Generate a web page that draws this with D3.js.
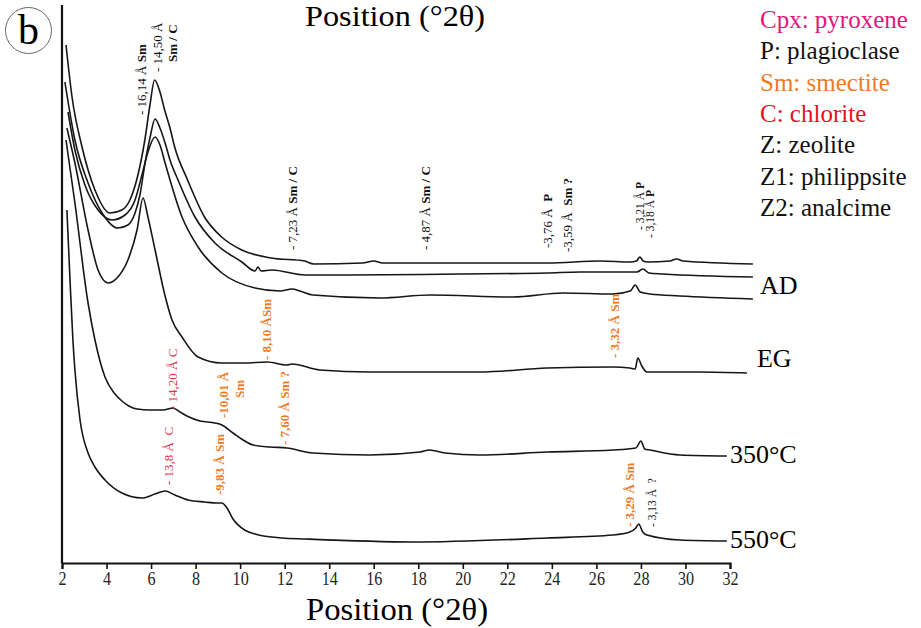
<!DOCTYPE html>
<html>
<head>
<meta charset="utf-8">
<script src="https://cdn.jsdelivr.net/npm/d3@7"></script>
<style>
  body { margin: 0; background: #fff; }
  svg { display: block; font-family: "Liberation Serif", "Times New Roman", serif; }
  svg text { font-family: "Liberation Serif", "Times New Roman", serif; }
  .line { fill: none; stroke: #161616; stroke-width: 1.6; stroke-linejoin: round; }
  .axis path, .axis line { stroke: #111; }
</style>
</head>
<body>
<div id="chart"></div>
<script>
// x ticks (°2θ)
var xTicks = [2, 4, 6, 8, 10, 12, 14, 16, 18, 20, 22, 24, 26, 28, 30, 32];

// diffractograms, [°2θ, intensity a.u.] (stacked, offset)
var curveTop = [[2.18,518],[2.45,466],[2.9,416],[3.48,373],[4.15,350],[4.69,353],[5.05,363],[5.41,388],[5.72,423],[5.95,458],[6.16,483],[6.4,471],[6.61,453],[6.85,435],[7.06,416],[7.64,383],[8.4,346],[9.17,326],[10.07,313],[11.4,305],[12.9,302],[13.3,299],[15.5,300],[16.0,302],[16.4,300],[19.3,300],[23.8,300],[26.2,302],[27.5,301],[27.8,302],[27.95,306],[28.1,302],[28.3,301],[29.3,302],[29.6,304],[29.9,302],[33.03,299]];

var curveSecond = [[2.13,481],[2.58,423],[3.17,380],[3.8,350],[4.51,335],[4.96,338],[5.28,350],[5.5,368],[5.73,400],[5.95,425],[6.18,444],[6.4,435],[6.63,420],[6.85,403],[7.21,383],[7.97,346],[8.87,320],[10.08,301],[10.67,292],[10.8,296],[10.94,292],[11.43,293],[12.91,288],[14.8,288],[19.87,289],[23.78,290],[25.26,291],[27.82,291],[28.09,294],[28.36,290],[28.99,289],[33.03,286]];

var curveAD = [[2.27,451],[2.58,413],[3.03,378],[3.62,353],[4.25,343],[4.83,348],[5.28,363],[5.59,388],[5.86,411],[6.18,426],[6.4,418],[6.63,400],[7.39,346],[8.11,316],[9.18,290],[10.67,275],[11.79,272],[12.33,274],[12.69,272],[13.27,268],[16.28,265],[18.52,268],[22.25,266],[24.5,270],[26.74,269],[27.52,272],[27.74,278],[27.97,271],[28.4,269],[29.75,267],[33.03,264]];

var curveEG = [[2.22,435],[2.58,400],[3.17,333],[3.62,293],[4.07,280],[4.51,286],[4.96,303],[5.37,333],[5.64,365],[5.86,346],[6.18,313],[6.63,267],[6.94,243],[7.39,226],[8.11,206],[9.18,200],[10.2,200],[11.2,201],[12.1,198],[12.33,199],[13.58,193],[15.83,191],[20.77,191],[23.78,195],[26.74,196],[27.5,195],[27.74,194],[27.86,205],[28.04,197],[28.27,191],[30.65,191],[32.76,190]];

var curve350 = [[2.18,423],[2.58,360],[3.17,260],[3.48,223],[3.93,186],[4.38,169],[4.69,162],[5.0,157],[5.37,154],[5.95,153],[6.54,153],[6.98,155],[7.3,151],[7.61,147],[8.2,142],[8.87,140],[9.18,138],[9.68,130],[10.13,123],[10.58,118],[11.34,116],[12.1,115],[13.27,110],[15.83,108],[18.08,111],[18.5,113],[19.2,110],[20.77,108],[23.78,111],[26.74,113],[27.77,115],[28.0,122],[28.17,114],[28.4,113],[29.75,108],[31.86,107]];

var curve550 = [[2.22,353],[2.36,283],[2.49,223],[2.58,193],[2.81,143],[3.17,110],[3.48,96],[3.93,83],[4.69,70],[5.59,65],[6.18,69],[6.63,72],[7.07,68],[7.66,63],[8.42,61],[8.96,60],[9.18,60],[9.41,55],[9.68,44],[10.2,33],[10.67,29],[11.88,25],[12.91,24],[17.76,21],[23.78,25],[26.74,28],[27.5,31],[27.77,35],[27.9,39],[28.08,31],[28.27,28],[29.75,23],[31.86,22]];

var curves = [curveTop, curveSecond, curveAD, curveEG, curve350, curve550];
var curveNames = ["", "", "AD", "EG", "350°C", "550°C"];

// peak labels: [°2θ, level, d-spacing text, phase, kind]
var peakLabels = [
  [5.59, 448, "- 16,14 Å ", "Sm", "k"],
  [6.27, 491, "- 14,50 Å", "", "k"],
  [6.94, 501, "", "Sm / C", "k"],
  [12.33, 313, "- 7,23 Å ", "Sm / C", "k"],
  [18.3, 313, "- 4,87 Å ", "Sm / C", "k"],
  [23.78, 315, "-3,76 Å\u00a0\u00a0", "P", "k"],
  [24.72, 311, "-3,59 Å\u00a0\u00a0", "Sm ?", "k"],
  [27.95, 333, "- 3,21 Å ", "P", "s"],
  [28.4, 325, "- 3,18 Å ", "P", "s"],
  [11.2, 203, "- 8,10 Å", "Sm", "o"],
  [26.83, 205, "- 3,32 Å ", "Sm", "o"],
  [6.98, 153, "- 14,20 Å ", "C", "r"],
  [9.23, 145, "-10,01 Å", "", "o"],
  [9.99, 165, "", "Sm", "o"],
  [12.01, 118, "- 7,60 Å ", "Sm ?", "o"],
  [6.76, 78, "- 13,8 Å\u00a0\u00a0", "C", "r"],
  [9.09, 68, "-9,83 Å ", "Sm", "o"],
  [27.5, 36, "- 3,29 Å ", "Sm", "o"],
  [28.5, 36, "- 3,13 Å\u00a0\u00a0", "?", "g"]
];

var legendItems = ["Cpx: pyroxene", "P: plagioclase", "Sm: smectite", "C: chlorite", "Z: zeolite", "Z1: philippsite", "Z2: analcime"];
var legendColors = ["#e2157c", "#111", "#f07a1e", "#e3121d", "#111", "#111", "#111"];

var drawChart = function() {
  var margin = { top: 5, right: 191, bottom: 65, left: 62 },
      width = 921 - margin.left - margin.right,
      height = 628 - margin.top - margin.bottom;

  var serif = "'Liberation Serif', 'Times New Roman', serif";

  var x = d3.scaleLinear().domain([2, 32]).range([0, width]);
  var y = d3.scaleLinear().domain([0, 558]).range([height, 0]);

  var line = d3.line()
               .x(function(d) { return x(d[0]); })
               .y(function(d) { return y(d[1]); })
               .curve(d3.curveMonotoneX);

  var svg = d3.select("#chart").append("svg")
              .attr("width", 921)
              .attr("height", 628)
              .attr("font-family", serif);

  var g = svg.append("g")
             .attr("transform", "translate(" + margin.left + "," + margin.top + ")");

  // curves
  g.selectAll(".line")
    .data(curves)
    .enter().append("path")
    .attr("class", "line")
    .attr("d", line);

  // curve names at the right end
  var nameDx = [0, 0, 7, 10, 3, 3],
      nameDy = [0, 0, -5, -6, 7, 7];
  curves.forEach(function(c, i) {
    if (!curveNames[i]) return;
    var last = c[c.length - 1];
    g.append("text")
      .attr("x", x(last[0]) + nameDx[i])
      .attr("y", y(last[1]) + nameDy[i])
      .style("font-size", "26px")
      .text(curveNames[i]);
  });

  // x axis
  var xAxis = g.append("g")
    .attr("class", "axis")
    .attr("font-family", serif)
    .attr("transform", "translate(0," + height + ")")
    .call(d3.axisBottom(x).tickValues(xTicks).tickSize(6).tickPadding(3).tickFormat(d3.format("d")));
  xAxis.select(".domain").attr("stroke-width", 2.2);
  xAxis.selectAll(".tick line").attr("stroke-width", 1.6);
  xAxis.selectAll("text")
    .style("font-size", "19px")
    .attr("fill", "#222")
    .attr("transform", "scale(0.85,1)");

  // y axis line (no ticks)
  g.append("line")
    .attr("x1", 0).attr("x2", 0)
    .attr("y1", 0).attr("y2", height)
    .attr("stroke", "#111")
    .attr("stroke-width", 2.2);

  // axis titles
  svg.append("text")
    .style("text-anchor", "middle")
    .style("font-size", "32px")
    .attr("x", 397)
    .attr("y", 620)
    .attr("textLength", 182)
    .attr("lengthAdjust", "spacingAndGlyphs")
    .text("Position (°2θ)");

  svg.append("text")
    .style("text-anchor", "middle")
    .style("font-size", "29px")
    .attr("x", 395)
    .attr("y", 26)
    .attr("textLength", 180)
    .attr("lengthAdjust", "spacingAndGlyphs")
    .text("Position (°2θ)");

  // panel letter
  svg.append("circle")
    .attr("cx", 28.5).attr("cy", 30.5).attr("r", 23)
    .attr("fill", "none").attr("stroke", "#666").attr("stroke-width", 1);
  svg.append("text")
    .style("text-anchor", "middle")
    .style("font-size", "42px")
    .attr("x", 28.5).attr("y", 44)
    .text("b");

  // peak labels (rotated)
  var kindColor = { k: "#111", s: "#111", g: "#222", o: "#f07a1e", r: "#e8304a" };
  peakLabels.forEach(function(p) {
    var kind = p[4];
    var t = g.append("text")
      .attr("transform", "translate(" + x(p[0]) + "," + y(p[1]) + ") rotate(-90)")
      .attr("dy", "0.35em")
      .style("font-size", (kind === "s" || kind === "g") ? "11.5px" : "13px")
      .attr("fill", kindColor[kind]);
    t.append("tspan")
      .style("font-weight", kind === "o" ? "bold" : "normal")
      .text(p[2]);
    t.append("tspan")
      .style("font-weight", (kind === "r" || kind === "g") ? "normal" : "bold")
      .text(p[3]);
  });

  // legend
  svg.selectAll(".legend")
    .data(legendItems)
    .enter().append("text")
    .attr("class", "legend")
    .attr("x", 760)
    .attr("y", function(d, i) { return 28 + i * 31.3; })
    .style("font-size", "25px")
    .attr("fill", function(d, i) { return legendColors[i]; })
    .text(function(d) { return d; });
};

drawChart();
</script>
</body>
</html>
